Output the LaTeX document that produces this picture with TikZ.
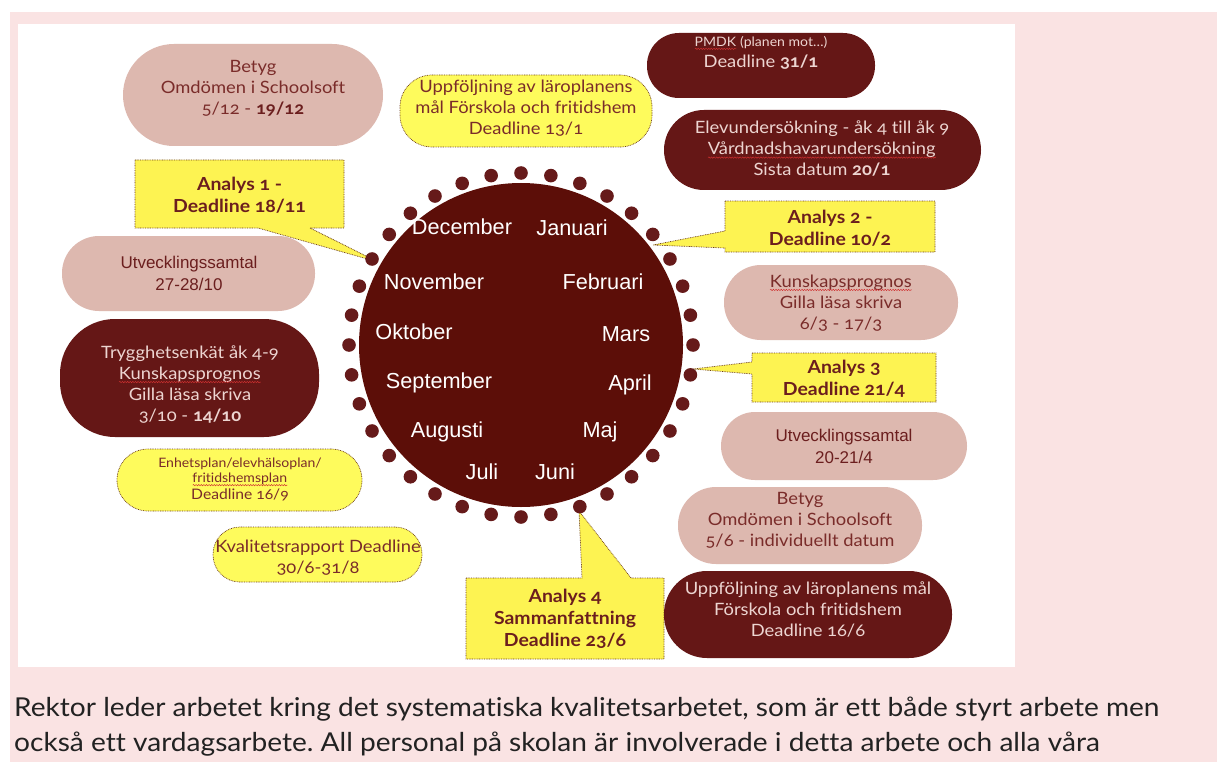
\documentclass[tikz,border=0pt]{standalone}
\usepackage{fontspec}
\setmainfont{Lato}[FakeStretch=1.08, Ligatures=NoCommon, Numbers=OldStyle]
\newfontfamily\ari{Liberation Sans}
\usetikzlibrary{decorations.pathmorphing}
\definecolor{pinkbg}{HTML}{FAE3E3}
\definecolor{lightpill}{HTML}{DDB8AF}
\definecolor{darkpill}{HTML}{651716}
\definecolor{clockc}{HTML}{5C0E08}
\definecolor{dotc}{HTML}{661A1A}
\definecolor{yelc}{HTML}{FDF352}
\definecolor{yelp}{HTML}{FEFB5C}
\definecolor{maroontext}{HTML}{6B1E1E}
\definecolor{softmaroon}{HTML}{7A2C2A}
\definecolor{lighttext}{HTML}{EDD5D1}
\definecolor{bordc}{HTML}{6B3A1A}
\definecolor{squig}{HTML}{D03030}
\definecolor{paratext}{HTML}{222222}
\newsavebox\sqbox
\newcommand\sqw[1]{\sbox\sqbox{#1}\leavevmode\rlap{\usebox\sqbox}\tikz[baseline=0pt,x=1pt,y=1pt]\draw[squig,line width=0.45pt,solid,decorate,decoration={snake,amplitude=0.7pt,segment length=2.6pt}] (0pt,-2.6pt) -- (\the\wd\sqbox,-2.6pt);}
\frenchspacing
\begin{document}
\begin{tikzpicture}[x=1pt,y=-1pt,
  pill/.style n args={3}{minimum width=#1, minimum height=#2, rounded corners=#3, inner sep=0pt},
  lightp/.style={fill=lightpill},
  darkp/.style={fill=darkpill},
  yelpill/.style={fill=yelp, draw=bordc, line width=0.7pt, dash pattern=on 0.8pt off 0.9pt},
  callout/.style={fill=yelc, draw=bordc, line width=0.7pt, dash pattern=on 0.8pt off 0.9pt},
  txt/.style={align=center, inner sep=0pt},
  ptext/.style={txt, font=\fontsize{17}{21}\selectfont},
  ltext/.style={ptext, text=softmaroon},
  dtext/.style={ptext, text=lighttext},
  ctext/.style={txt, text=maroontext, font=\fontsize{18}{22}\selectfont\bfseries},
  month/.style={inner sep=0pt, text=white, font=\ari\fontsize{21.7}{26}\selectfont},
  dot/.style={fill=dotc}
]
\useasboundingbox (0,0) rectangle (1217,762);
\fill[white] (0,0) rectangle (1217,762);
\fill[pinkbg] (10,12) rectangle (1217,762);
\fill[white] (18,24) rectangle (1015,667);

% callout tips
\coordinate (t1) at (378,262);
\coordinate (t2) at (653,245);
\coordinate (t3) at (693,369);
\coordinate (t4) at (579,511);

% callouts
\path[callout] (135,160) -- (344,160) -- (344,228) -- (310,228) -- (t1) -- (258,228) -- (135,228) -- cycle;
\path[callout] (725,201) -- (935,201) -- (935,252) -- (725,252) -- (725,248) -- (t2) -- (725,231) -- cycle;
\path[callout] (752,353) -- (936,353) -- (936,402) -- (752,402) -- (752,374) -- (t3) -- (752,362) -- cycle;
\path[callout] (466,578) -- (582,578) -- (t4) -- (631,578) -- (664,578) -- (664,659) -- (466,659) -- cycle;

\node[ctext] (a1) at (239.5,195) {Analys 1 -\\Deadline 18/11};
\node[ctext] (a2) at (830,228) {Analys 2 -\\Deadline 10/2};
\node[ctext] (a3) at (844,379) {Analys 3\\Deadline 21/4};
\node[ctext] (a4) at (565,619) {Analys 4\\Sammanfattning\\Deadline 23/6};

% clock
\node[circle, fill=clockc, minimum size=324pt, inner sep=0pt] (clock) at (521,345) {};
\foreach \a in {0,10,...,350}
  \fill[dot] (clock.center) ++(\a:172) circle[radius=6.8pt];

\node[month] (dec) at (462,227) {December};
\node[month] (jan) at (572,228) {Januari};
\node[month] (nov) at (434,282) {November};
\node[month] (feb) at (603,282) {Februari};
\node[month] (okt) at (414,332) {Oktober};
\node[month] (mar) at (626,334) {Mars};
\node[month] (sep) at (439,383) {September};
\node[month] (apr) at (630,385) {April};
\node[month] (aug) at (447,432) {Augusti};
\node[month] (maj) at (600,432) {Maj};
\node[month] (jul) at (482,472) {Juli};
\node[month] (jun) at (555,472) {Juni};

% pills
\node[pill={260pt}{102pt}{51pt}, lightp] (betygA) at (253,95) {};
\node[ltext] (betygAt) at (253,88) {Betyg\\Omdömen i Schoolsoft\\5/12 - \textcolor{maroontext}{\textbf{19/12}}};

\node[pill={252pt}{72pt}{32pt}, yelpill] (uppA) at (526,111) {};
\node[ptext, text=softmaroon] (uppAt) at (526,108.5) {Uppföljning av läroplanens\\mål Förskola och fritidshem\\Deadline 13/1};

\node[pill={228pt}{65pt}{32pt}, darkp] (pmdk) at (761,65.5) {};
\node[txt, text=lighttext, font=\fontsize{13}{15}\selectfont] (pmdkt1) at (761,43) {\sqw{PMDK} (planen mot…)};
\node[dtext] (pmdkt2) at (761,62) {Deadline \textbf{31/1}};

\node[pill={317pt}{80pt}{40pt}, darkp] (elev) at (822.5,150) {};
\node[dtext] (elevt) at (822,149) {Elevundersökning - åk 4 till åk 9\\\sqw{Vårdnadshavarundersökning}\\Sista datum \textbf{20/1}};

\node[pill={234pt}{75pt}{37pt}, lightp] (kunA) at (841,302.5) {};
\node[ltext] (kunAt) at (841,303) {\sqw{Kunskapsprognos}\\Gilla läsa skriva\\6/3 - 17/3};

\node[pill={246pt}{68pt}{34pt}, lightp] (utvR) at (844,446) {};
\node[txt, text=maroontext, font=\ari\fontsize{17}{22}\selectfont] (utvRt) at (844,446) {Utvecklingssamtal\\20-21/4};

\node[pill={244pt}{77pt}{38pt}, lightp] (betygB) at (800,525.5) {};
\node[ltext] (betygBt) at (800,520) {Betyg\\Omdömen i Schoolsoft\\5/6 - individuellt datum};

\node[pill={288pt}{87pt}{43pt}, darkp] (uppB) at (808,614.5) {};
\node[dtext] (uppBt) at (808,609) {Uppföljning av läroplanens mål\\Förskola och fritidshem\\Deadline 16/6};

\node[pill={253pt}{75pt}{37pt}, lightp] (utvL) at (188.5,273.5) {};
\node[txt, text=maroontext, font=\ari\fontsize{17}{22}\selectfont] (utvLt) at (189,273.5) {Utvecklingssamtal\\27-28/10};

\node[pill={259pt}{118pt}{55pt}, darkp] (tryg) at (189.5,378) {};
\node[dtext] (trygt) at (190,384.5) {Trygghetsenkät åk 4-9\\\sqw{Kunskapsprognos}\\Gilla läsa skriva\\3/10 - \textbf{14/10}};

\node[pill={245pt}{62pt}{31pt}, yelpill] (enh) at (239.5,480) {};
\node[txt, text=softmaroon, font=\fontsize{13}{15.5}\selectfont] (enht) at (240,479) {Enhetsplan/elevhälsoplan/\\\sqw{fritidshemsplan}\\[1pt]{\fontsize{14.5}{18}\selectfont Deadline 16/9}};

\node[pill={209pt}{55pt}{27pt}, yelpill] (kval) at (317.5,554.5) {};
\node[ptext, text=softmaroon] (kvalt) at (318,557.5) {Kvalitetsrapport Deadline\\30/6-31/8};

% paragraph
\node[anchor=west, align=left, inner sep=0pt, text=paratext, font=\fontsize{26}{35}\selectfont] (para) at (14,727) {Rektor leder arbetet kring det systematiska kvalitetsarbetet, som är ett både styrt arbete men\\också ett vardagsarbete. All personal på skolan är involverade i detta arbete och alla våra};
\end{tikzpicture}
\end{document}
